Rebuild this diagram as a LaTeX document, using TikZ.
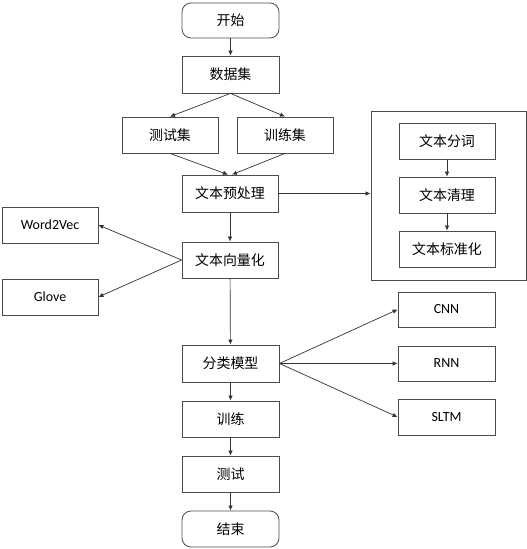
\documentclass[tikz,border=0pt]{standalone}
\usepackage{fontspec}
\setmainfont{Carlito}
\newfontfamily\cjk{Noto Sans CJK SC}
\usetikzlibrary{arrows.meta}
\tikzset{
  box/.style={draw=black!70, line width=0.8bp, minimum width=96bp, minimum height=36bp, inner sep=0pt, font=\cjk\fontsize{14}{16}\selectfont, text=black},
  latinbox/.style={box, font=\fontsize{14}{16}\selectfont},
  term/.style={box, rounded corners=9bp},
  conn/.style={draw=black!80, line width=0.7bp, -{Latex[length=5bp,width=4.5bp]}}
}
\begin{document}
\begin{tikzpicture}[x=1bp,y=-1bp]
\useasboundingbox (0,0) rectangle (527,549);
\node[term, minimum width=97bp, minimum height=35bp] (start) at (230.5,20.5) {开始};
\node[box, minimum width=97bp, minimum height=37bp] (data) at (230.5,74.5) {数据集};
\node[box] (testset) at (170,135) {测试集};
\node[box] (trainset) at (285,135) {训练集};
\node[box, minimum height=37bp] (pre) at (230,193.5) {文本预处理};
\node[box] (vec) at (230,260) {文本向量化};
\node[latinbox] (w2v) at (50,225) {Word2Vec};
\node[latinbox] (glove) at (50,297) {Glove};
\node[box, minimum width=155bp, minimum height=169bp] (outer) at (448.5,195.5) {};
\node[box] (seg) at (447,141) {文本分词};
\node[box] (clean) at (447,195) {文本清理};
\node[box] (norm) at (447,249) {文本标准化};
\node[box, minimum width=97bp, minimum height=37bp] (model) at (230.5,363.5) {分类模型};
\node[latinbox, minimum width=97bp, minimum height=35bp] (cnn) at (446.5,309.5) {CNN};
\node[latinbox, minimum width=97bp, minimum height=35bp] (rnn) at (446.5,363.5) {RNN};
\node[latinbox, minimum width=97bp] (sltm) at (446.5,417) {SLTM};
\node[box, minimum width=97bp] (train) at (230.5,419) {训练};
\node[box, minimum width=97bp] (test) at (230.5,474) {测试};
\node[term, minimum width=97bp] (end) at (230.5,529) {结束};

\draw[conn] (start) -- (data);
\draw[conn] (data.south) -- (testset.north);
\draw[conn] (data.south) -- (trainset.north);
\draw[conn] (testset.south) -- ([xshift=-2bp]pre.north);
\draw[conn] (trainset.south) -- ([xshift=2bp]pre.north);
\draw[conn] (pre) -- (vec);
\draw[conn] (pre.east) -- (pre.east -| outer.west);
\draw[conn] (seg) -- (clean);
\draw[conn] (clean) -- (norm);
\draw[conn] (vec.west) -- (w2v.east);
\draw[conn] (vec.west) -- (glove.east);
\draw[conn] (vec) -- (model);
\draw[conn] (model.east) -- (cnn.west);
\draw[conn] (model.east) -- (rnn.west);
\draw[conn] (model.east) -- (sltm.west);
\draw[conn] (model) -- (train);
\draw[conn] (train) -- (test);
\draw[conn] (test) -- (end);
\end{tikzpicture}
\end{document}
